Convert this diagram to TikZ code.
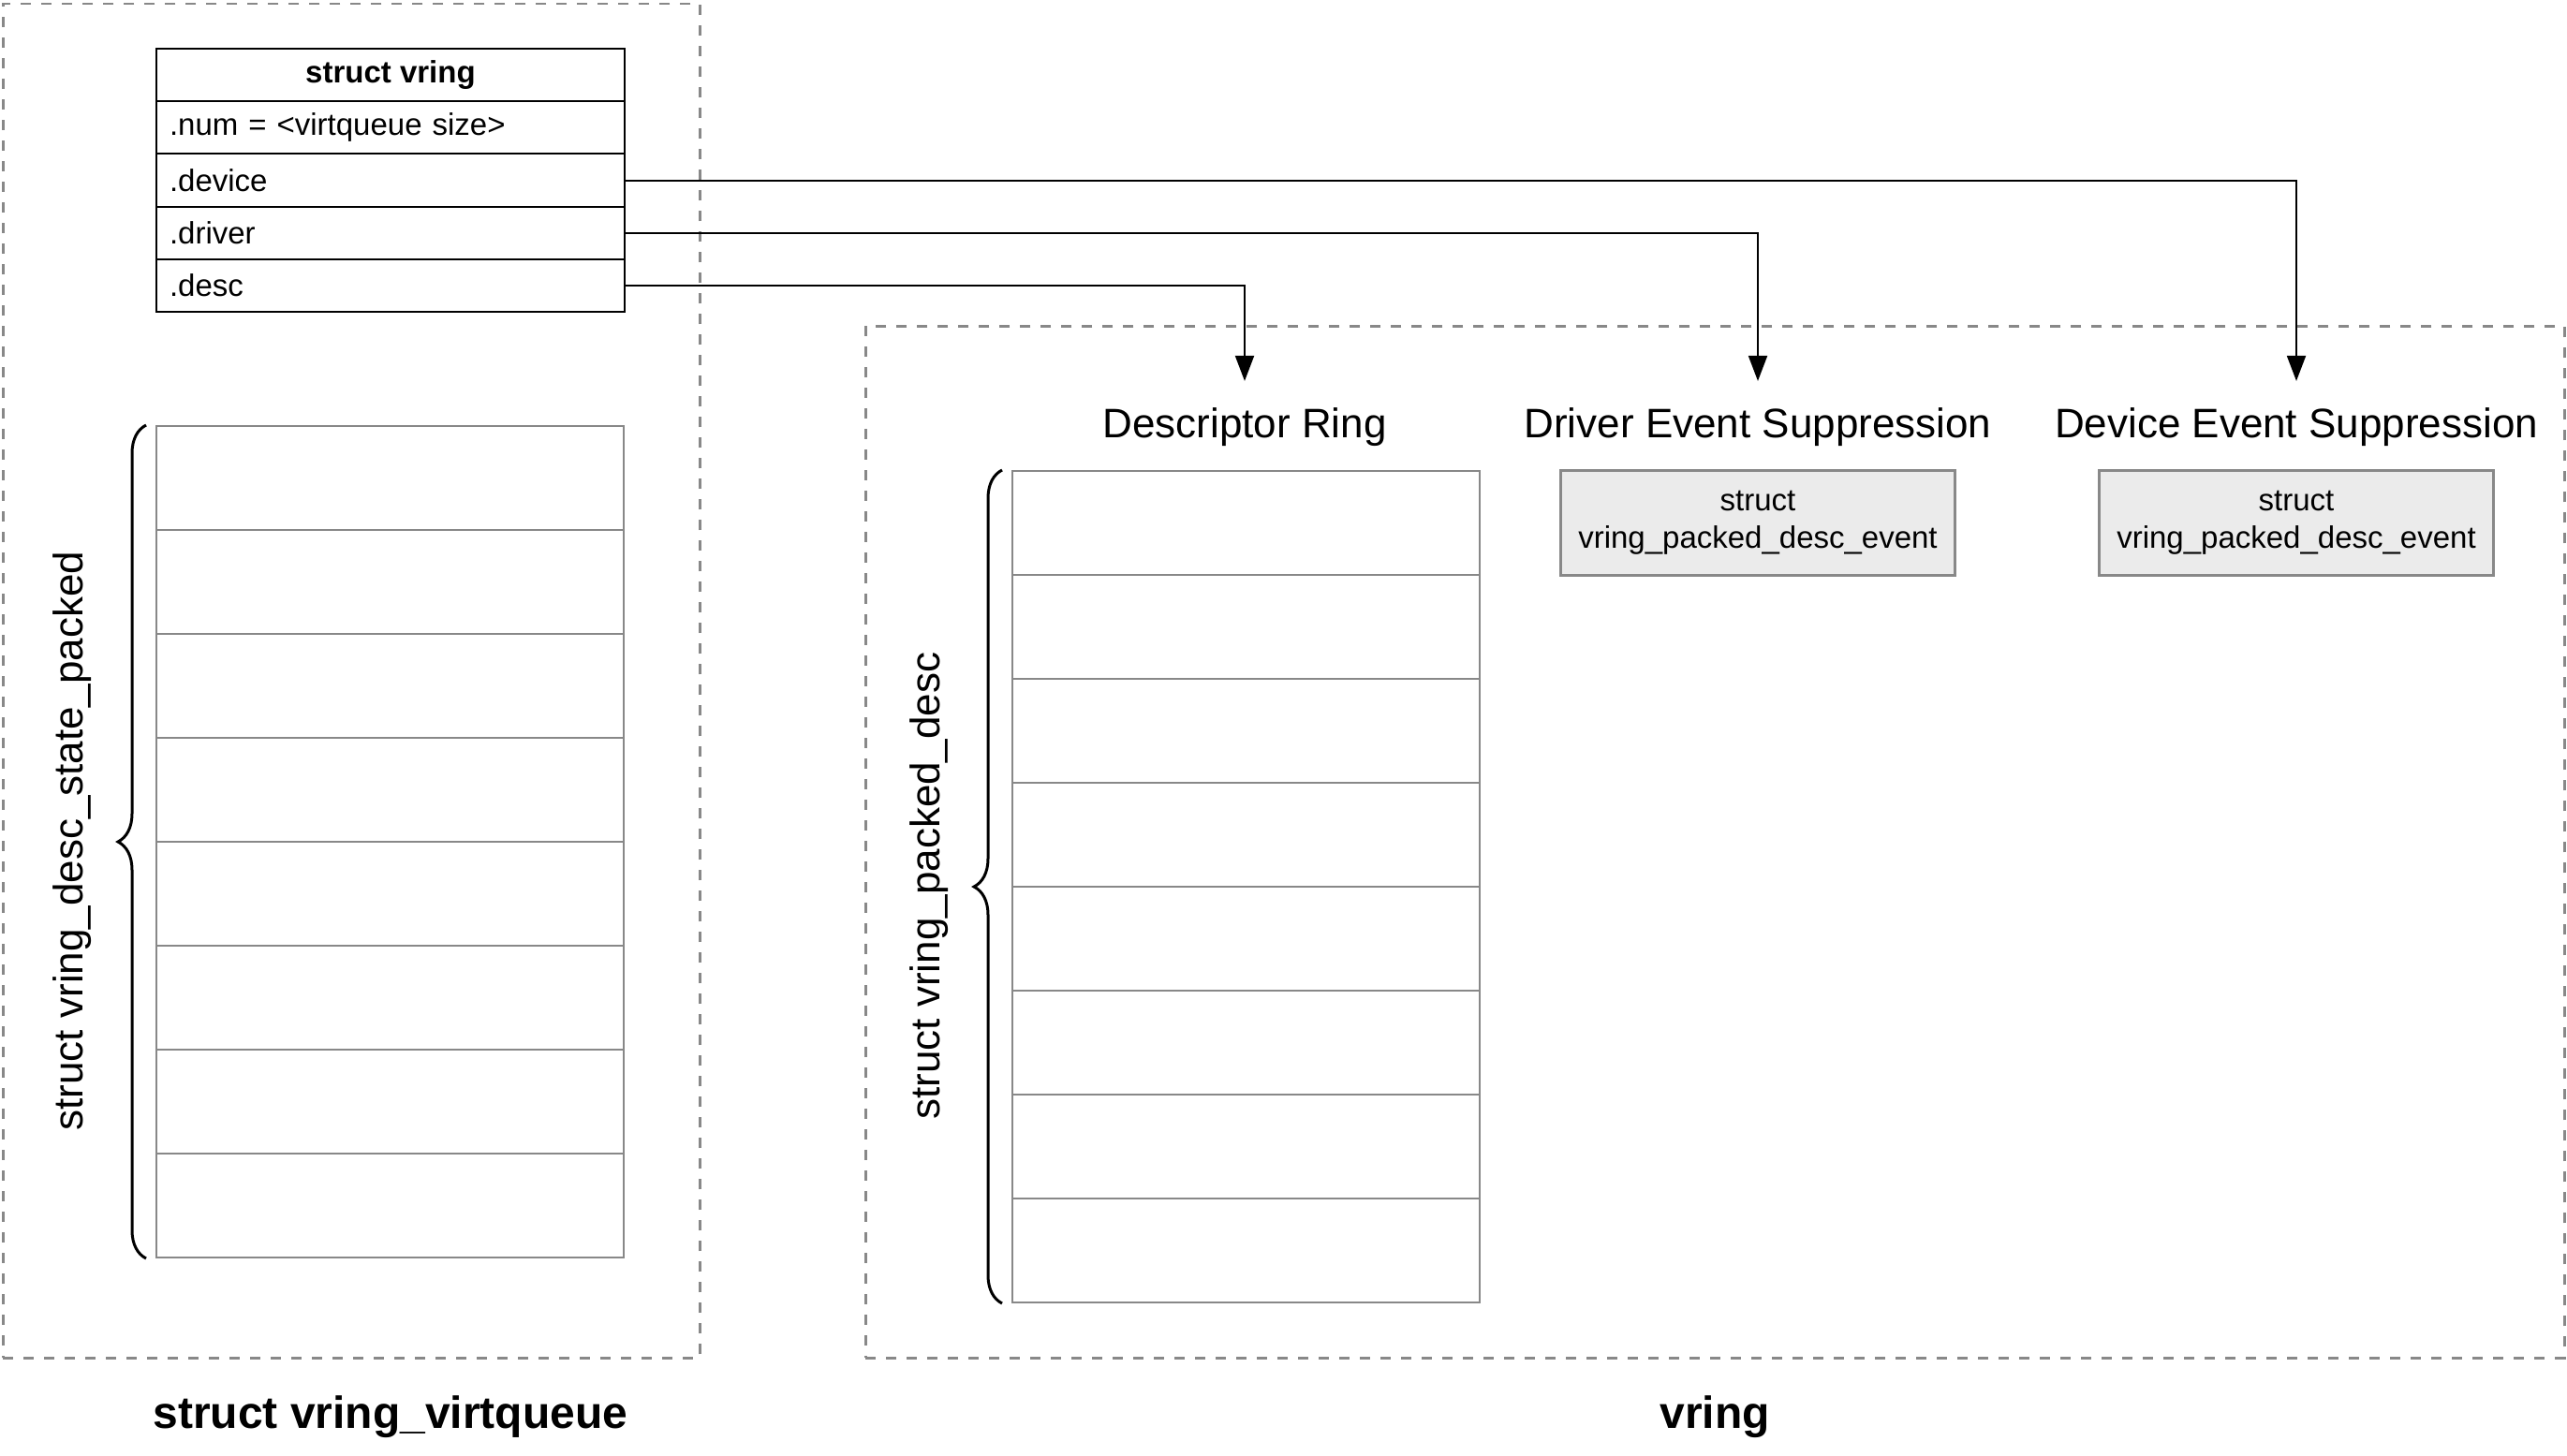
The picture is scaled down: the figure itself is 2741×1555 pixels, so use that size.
\documentclass[tikz,border=0pt]{standalone}
\usepackage{fontspec}
\setmainfont{Liberation Sans}
\usetikzlibrary{arrows.meta,decorations.pathreplacing}
\definecolor{linegray}{HTML}{888888}
\definecolor{fillgray}{HTML}{EBEBEB}
\begin{document}
\begin{tikzpicture}[x=1pt,y=-1pt,
  region/.style={draw=linegray,line width=2.5pt,dash pattern=on 11pt off 11pt,inner sep=0pt,anchor=north west},
  hdrbox/.style={draw,line width=2pt,minimum width=500pt,minimum height=56.2pt,inner sep=0pt,anchor=north west,font=\fontsize{33}{40}\bfseries\selectfont},
  fieldbox/.style={draw,line width=2pt,minimum width=500pt,minimum height=56.2pt,inner xsep=14pt,inner ysep=0pt,text width=472pt,align=left,anchor=north west,font=\fontsize{33}{40}\selectfont},
  cell/.style={draw=linegray,line width=2pt,minimum width=499pt,minimum height=111pt,inner sep=0pt,anchor=north west},
  evbox/.style={draw=linegray,fill=fillgray,line width=2.5pt,minimum width=421pt,minimum height=112pt,inner sep=0pt,align=center,anchor=north,font=\fontsize{33}{40}\selectfont},
  title/.style={inner xsep=0pt,inner ysep=28pt,anchor=base,font=\fontsize{44}{52}\selectfont},
  sidelabel/.style={rotate=90,anchor=base,inner sep=0pt,font=\fontsize{44}{52}\selectfont},
  caption/.style={anchor=base,inner sep=0pt,font=\fontsize{48}{56}\bfseries\selectfont},
  conn/.style={line width=2pt,-{Triangle[length=27pt,width=20pt]}},
  curly/.style={decorate,decoration={brace,amplitude=30pt},line width=3pt},
]
\fill[white] (0,0) rectangle (2741,1555);
\useasboundingbox (0,0) rectangle (2741,1555);

% dashed regions
\node[region,minimum width=744pt,minimum height=1446pt] (vqregion) at (2,3) {};
\node[region,minimum width=1814pt,minimum height=1102pt] (vrregion) at (923,347) {};

% struct vring table
\node[hdrbox] (hdr) at (166,51) {struct vring};
\node[fieldbox] (num) at (166,107.2) {.num = <virtqueue size>};
\node[fieldbox] (dev) at (166,163.4) {.device};
\node[fieldbox] (drv) at (166,219.6) {.driver};
\node[fieldbox] (dsc) at (166,275.8) {.desc};

% left array
\foreach \i in {1,...,8} {
  \node[cell] (l\i) at (166,{454+111*(\i-1)}) {};
}
% right array
\foreach \i in {1,...,8} {
  \node[cell] (r\i) at (1080,{502+111*(\i-1)}) {};
}

% braces
\draw[curly] ([xshift=-10pt]l8.south west) -- ([xshift=-10pt]l1.north west);
\draw[curly] ([xshift=-10pt]r8.south west) -- ([xshift=-10pt]r1.north west);
\node[sidelabel] (llabel) at (88,898) {struct vring\_desc\_state\_packed};
\node[sidelabel] (rlabel) at (1003,946) {struct vring\_packed\_desc};

% titles
\node[title] (ringt) at (1329,467) {Descriptor Ring};
\node[title] (drvt) at (1877,467) {Driver Event Suppression};
\node[title] (devt) at (2452,467) {Device Event Suppression};

% event boxes
\node[evbox] (drvev) at (1877,501) {struct\\vring\_packed\_desc\_event};
\node[evbox] (devev) at (2452,501) {struct\\vring\_packed\_desc\_event};

% connectors
\draw[conn] (dev.east) -| (devt.north);
\draw[conn] (drv.east) -| (drvt.north);
\draw[conn] (dsc.east) -| (ringt.north);

% captions
\node[caption] (vqcap) at (417,1525) {struct vring\_virtqueue};
\node[caption] (vrcap) at (1831,1525) {vring};
\end{tikzpicture}
\end{document}
